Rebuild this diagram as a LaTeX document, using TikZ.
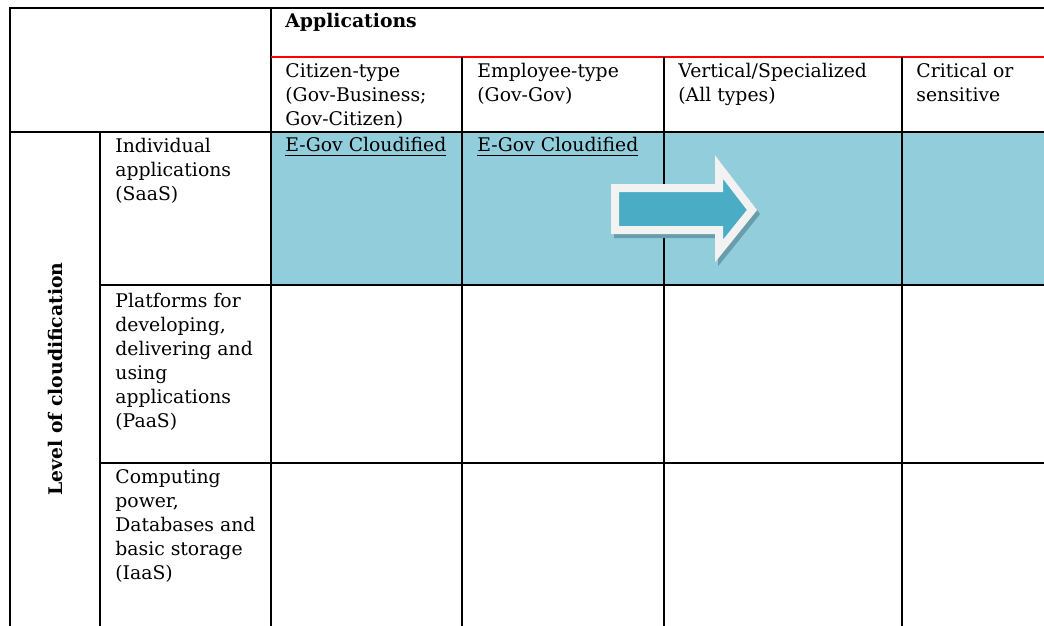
\documentclass[tikz,border=0pt]{standalone}
\usepackage{fontspec}
\setmainfont{DejaVu Serif}
\definecolor{cellblue}{HTML}{92CDDC}
\definecolor{arrowblue}{HTML}{4BACC6}
\definecolor{arrowrim}{HTML}{F2F2F2}
\definecolor{arrowshade}{HTML}{6A9DAC}
\definecolor{headred}{HTML}{FF0000}
\newcommand\cellfont{\fontsize{9.4}{12}\selectfont}
\begin{document}
\begin{tikzpicture}[x=0.5pt,y=-0.5pt]
    \tikzstyle{cell}=[anchor=base west,inner sep=0pt,align=left,font=\cellfont]
    \tikzstyle{rule}=[line width=1.1pt]
    \tikzstyle{bigarrow}=[line width=4pt,line join=miter]
    \useasboundingbox (0,0) rectangle (1044,626);
    % shaded SaaS row
    \fill[cellblue] (271,132) rectangle (1044,285);
    % grid
    \draw[rule] (10,626) -- (10,8) -- (1044,8);
    \draw[rule] (271,8) -- (271,626);
    \draw[rule,headred] (271,57) -- (1044,57);
    \draw[rule] (10,132) -- (1044,132);
    \draw[rule] (100,132) -- (100,626);
    \foreach \x in {462,664,902}
      \draw[rule] (\x,57) -- (\x,626);
    \foreach \y in {285,463}
      \draw[rule] (100,\y) -- (1044,\y);
    % column headers (base = last line)
    \node[cell,font=\cellfont\bfseries] (apps) at (285,28) {Applications};
    \node[cell] (citizen) at (285,126) {Citizen-type\\(Gov-Business;\\Gov-Citizen)};
    \node[cell] (employee) at (477,102) {Employee-type\\(Gov-Gov)};
    \node[cell] (vertical) at (678,102) {Vertical/Specialized\\(All types)};
    \node[cell] (critical) at (916,102) {Critical or\\sensitive};
    % row headers
    \node[cell,font=\cellfont\bfseries,rotate=90,anchor=center] (level) at (55,379) {Level of cloudification};
    \node[cell] (saas) at (115,200) {Individual\\applications\\(SaaS)};
    \node[cell] (paas) at (115,427) {Platforms for\\developing,\\delivering and\\using\\applications\\(PaaS)};
    \node[cell] (iaas) at (115,579) {Computing\\power,\\Databases and\\basic storage\\(IaaS)};
    % cells
    \node[cell] (egovA) at (285,152) {\underline{E-Gov Cloudified}};
    \node[cell] (egovB) at (477,152) {\underline{E-Gov Cloudified}};
    % arrow
    \filldraw[bigarrow,arrowshade,shift={(3,4)}]
      (615,188) -- (719,188) -- (719,167) -- (752,210) -- (719,251) -- (719,230) -- (615,230) -- cycle;
    \filldraw[bigarrow,draw=arrowrim,fill=arrowblue]
      (615,188) -- (719,188) -- (719,167) -- (752,210) -- (719,251) -- (719,230) -- (615,230) -- cycle;
\end{tikzpicture}
\end{document}
